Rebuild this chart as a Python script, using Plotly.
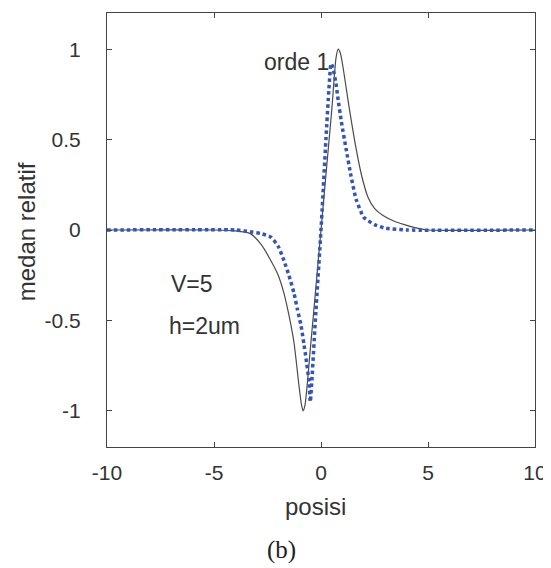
import plotly.graph_objects as go

# Data
black_x = [-10, -5, -4, -3.3, -2.8, -2.34, -2.0, -1.73, -1.5, -1.26, -1.03, -0.92, -0.84, -0.75,
           -0.5, -0.25, 0, 0.25, 0.5, 0.7, 0.8, 0.9, 1.03, 1.26, 1.45, 1.64, 1.9, 2.2, 2.5, 2.9,
           3.4, 3.9, 4.5, 5, 10]
black_y = [0, 0, -0.005, -0.02, -0.08, -0.17, -0.25, -0.35, -0.47, -0.625, -0.86, -0.96, -1.0, -0.97,
           -0.66, -0.33, 0, 0.33, 0.66, 0.95, 1.0, 0.98, 0.9, 0.72, 0.58, 0.45, 0.3, 0.18, 0.12, 0.08,
           0.05, 0.03, 0.01, 0, 0]

blue_x = [-10, -4, -3.3, -2.8, -2.34, -2.0, -1.73, -1.5, -1.26, -1.1, -0.93, -0.8, -0.7, -0.56,
          -0.5, -0.25, 0, 0.23, 0.37, 0.47, 0.55, 0.7, 0.8, 0.95, 1.17, 1.4, 1.64, 2.0, 2.5, 3.0, 4, 10]
blue_y = [0, 0, -0.01, -0.02, -0.04, -0.09, -0.17, -0.25, -0.35, -0.44, -0.53, -0.63, -0.71, -0.84,
          -0.95, -0.47, 0.0, 0.5, 0.78, 0.92, 0.9, 0.81, 0.72, 0.6, 0.45, 0.3, 0.17, 0.07, 0.03, 0.01, 0, 0]

x_ticks = [-10, -5, 0, 5, 10]
y_ticks = [-1, -0.5, 0, 0.5, 1]
y_tick_labels = ["-1", "-0.5", "0", "0.5", "1"]

FONT = "Liberation Sans, Arial, sans-serif"
TXT = "#333333"

fig = go.Figure()
fig.add_trace(go.Scatter(x=black_x, y=black_y, mode="lines",
                         line=dict(color="#4a4a4a", width=1.2, shape="spline", smoothing=0.6),
                         showlegend=False))
fig.add_trace(go.Scatter(x=blue_x, y=blue_y, mode="lines",
                         line=dict(color="#3556b0", width=3.5, dash="3.5px,3px", shape="spline", smoothing=0.5),
                         showlegend=False))

fig.add_annotation(x=-2.75, y=0.93, text="orde 1", showarrow=False, xanchor="left", yanchor="middle",
                   font=dict(family=FONT, size=23, color=TXT))
fig.add_annotation(x=-7.1, y=-0.30, text="V=5", showarrow=False, xanchor="left", yanchor="middle",
                   font=dict(family=FONT, size=23, color=TXT))
fig.add_annotation(x=-7.2, y=-0.53, text="h=2um", showarrow=False, xanchor="left", yanchor="middle",
                   font=dict(family=FONT, size=23, color=TXT))
# axis titles
fig.add_annotation(x=0.488, y=-0.138, xref="paper", yref="paper", text="posisi", showarrow=False,
                   xanchor="center", yanchor="middle", font=dict(family=FONT, size=24, color=TXT))
fig.add_annotation(x=-0.189, y=0.495, xref="paper", yref="paper", text="medan relatif", showarrow=False,
                   textangle=-90, xanchor="center", yanchor="middle", font=dict(family=FONT, size=24, color=TXT))
fig.add_annotation(x=0.407, y=-0.237, xref="paper", yref="paper", text="(b)", showarrow=False,
                   xanchor="center", yanchor="middle",
                   font=dict(family="Liberation Serif, Times New Roman, serif", size=25, color="#222"))

axis_common = dict(showgrid=False, zeroline=False, showline=True, linecolor="#444", linewidth=1,
                   mirror="ticks", ticks="inside", ticklen=5, tickcolor="#444", automargin=False,
                   tickfont=dict(family=FONT, size=21, color=TXT))

fig.update_xaxes(range=[-10, 10], tickvals=x_ticks, ticktext=[str(t) for t in x_ticks],
                 ticklabelstandoff=7, **axis_common)
fig.update_yaxes(range=[-1.2, 1.2], tickvals=y_ticks, ticktext=y_tick_labels,
                 ticklabelstandoff=21, **axis_common)

# page body adds an 8px offset, so the figure is sized to the visible area
fig.update_layout(width=543, height=560, margin=dict(l=99, r=16, t=5, b=121),
                  plot_bgcolor="white", paper_bgcolor="white")

fig.write_html("out.html")
